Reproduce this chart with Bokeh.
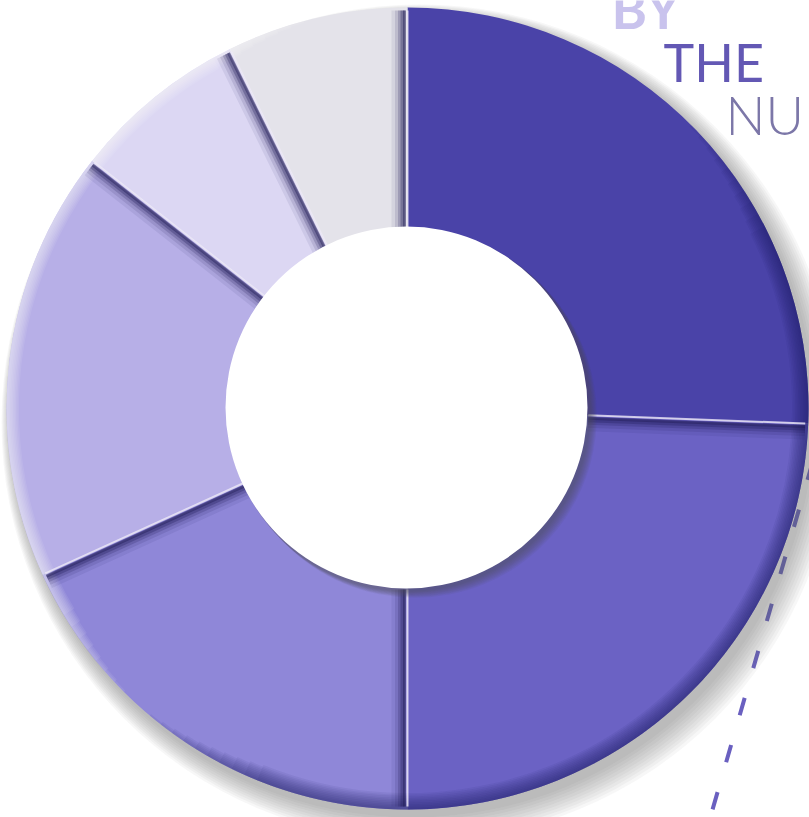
import numpy as np
from bokeh.plotting import figure
from bokeh.models import Range1d
from bokeh.core.properties import value
from bokeh.embed import file_html
from bokeh.resources import INLINE

# ---- data (shares in %, clockwise from 12 o'clock) ----
categories = ["A", "B", "C", "D", "E", "F"]
shares = [25.6, 24.4, 18.2, 17.4, 7.1, 7.3]
colors = ["#4a43a8", "#6b62c4", "#8f87d8", "#b7afe7", "#dcd7f3", "#e4e3ea"]
title_words = ["BY", "THE", "NU"]

W, H = 809, 817
cx, cy = 407, H - 408
R_OUT, R_IN = 401, 181

p = figure(width=W, height=H, output_backend="svg", toolbar_location=None,
           x_range=Range1d(0, W), y_range=Range1d(0, H), min_border=0)
p.axis.visible = False
p.grid.visible = False
p.outline_line_color = None
p.background_fill_color = "white"
p.border_fill_color = "white"

# dashed leader line (behind donut)
p.line([812, 706], [H - 462, H + 10 - 840], line_color="#6a60c0", line_width=4,
       line_dash="18 31", line_cap="butt")

# soft drop shadow of the ring
for k in range(10):
    p.circle(x=cx + 5 + k * 0.8, y=cy - 7 - k * 0.8, radius=R_OUT + 1 + k * 1.8,
             fill_color="#5f5f5f", fill_alpha=0.05, line_color=None)

# wedges
frac = np.array(shares) / sum(shares)
cum = np.concatenate([[0], np.cumsum(frac)])
starts = np.pi / 2 - cum[:-1] * 2 * np.pi
ends = np.pi / 2 - cum[1:] * 2 * np.pi
p.annular_wedge(x=cx, y=cy, inner_radius=R_IN - 5, outer_radius=R_OUT,
                start_angle=ends, end_angle=starts, direction="anticlock",
                fill_color=colors, line_color=None)

# dark rim on lower right (bevel)
for k in range(10):
    p.annular_wedge(x=cx, y=cy, inner_radius=R_OUT - 2 - k * 1.6, outer_radius=R_OUT,
                    start_angle=np.radians(-130 + k * 2), end_angle=np.radians(45 - k * 2),
                    direction="anticlock", fill_color="#1c1760", fill_alpha=0.07,
                    line_color=None)
# light rim on upper left
for k in range(8):
    p.annular_wedge(x=cx, y=cy, inner_radius=R_OUT - 2 - k * 1.5, outer_radius=R_OUT,
                    start_angle=np.radians(105 + k * 2), end_angle=np.radians(225 - k * 2),
                    direction="anticlock", fill_color="white", fill_alpha=0.08,
                    line_color=None)

# segment dividers: shadow band + highlight line
shadow_side = [1, -1, -1, 1, 1, 1]  # per boundary (90, 116, 142, 204, 270, 358)
bounds = starts  # boundary at start of each segment
for b, side in zip(bounds, shadow_side):
    nx, ny = -np.sin(b) * side, np.cos(b) * side  # perpendicular toward shadow side
    r0, r1 = R_IN, R_OUT - 3
    for off, a, w in [(10, 0.08, 12), (8, 0.12, 9), (6, 0.2, 7), (4.5, 0.3, 5), (3, 0.45, 3)]:
        p.segment(x0=cx + r0 * np.cos(b) + nx * off, y0=cy + r0 * np.sin(b) + ny * off,
                  x1=cx + r1 * np.cos(b) + nx * off, y1=cy + r1 * np.sin(b) + ny * off,
                  line_color="#1e1a55", line_alpha=a, line_width=w)
    p.segment(x0=cx + r0 * np.cos(b), y0=cy + r0 * np.sin(b),
              x1=cx + r1 * np.cos(b), y1=cy + r1 * np.sin(b),
              line_color="#eeeaf8", line_alpha=0.8, line_width=2)

# centre hole with shadowed rim
for k in range(8):
    p.circle(x=cx + 1 + k * 0.9, y=cy - 1 - k * 0.9, radius=R_IN + 1,
             fill_color="#4a4a5a", fill_alpha=0.09, line_color=None)
p.circle(x=cx - 1, y=cy + 1, radius=R_IN, fill_color="white", line_color=None)

# heading
p.text(x=[611], y=[H - 8], text=[title_words[0]], text_font=value("Lato"),
       text_font_style="bold", text_font_size="54px", text_color="#c9c3ed",
       text_baseline="alphabetic")
p.text(x=[663], y=[H - 61], text=[title_words[1]], text_font=value("Lato"),
       text_font_size="52px", text_color="#6358b4", text_baseline="alphabetic")
p.text(x=[725], y=[H - 114], text=[title_words[2]],
       text_font=value("Lato Light, Lato, sans-serif"),
       text_font_size="53px", text_color="#7c77a8", text_baseline="alphabetic")

open("out.html", "w").write(file_html(p, INLINE))
